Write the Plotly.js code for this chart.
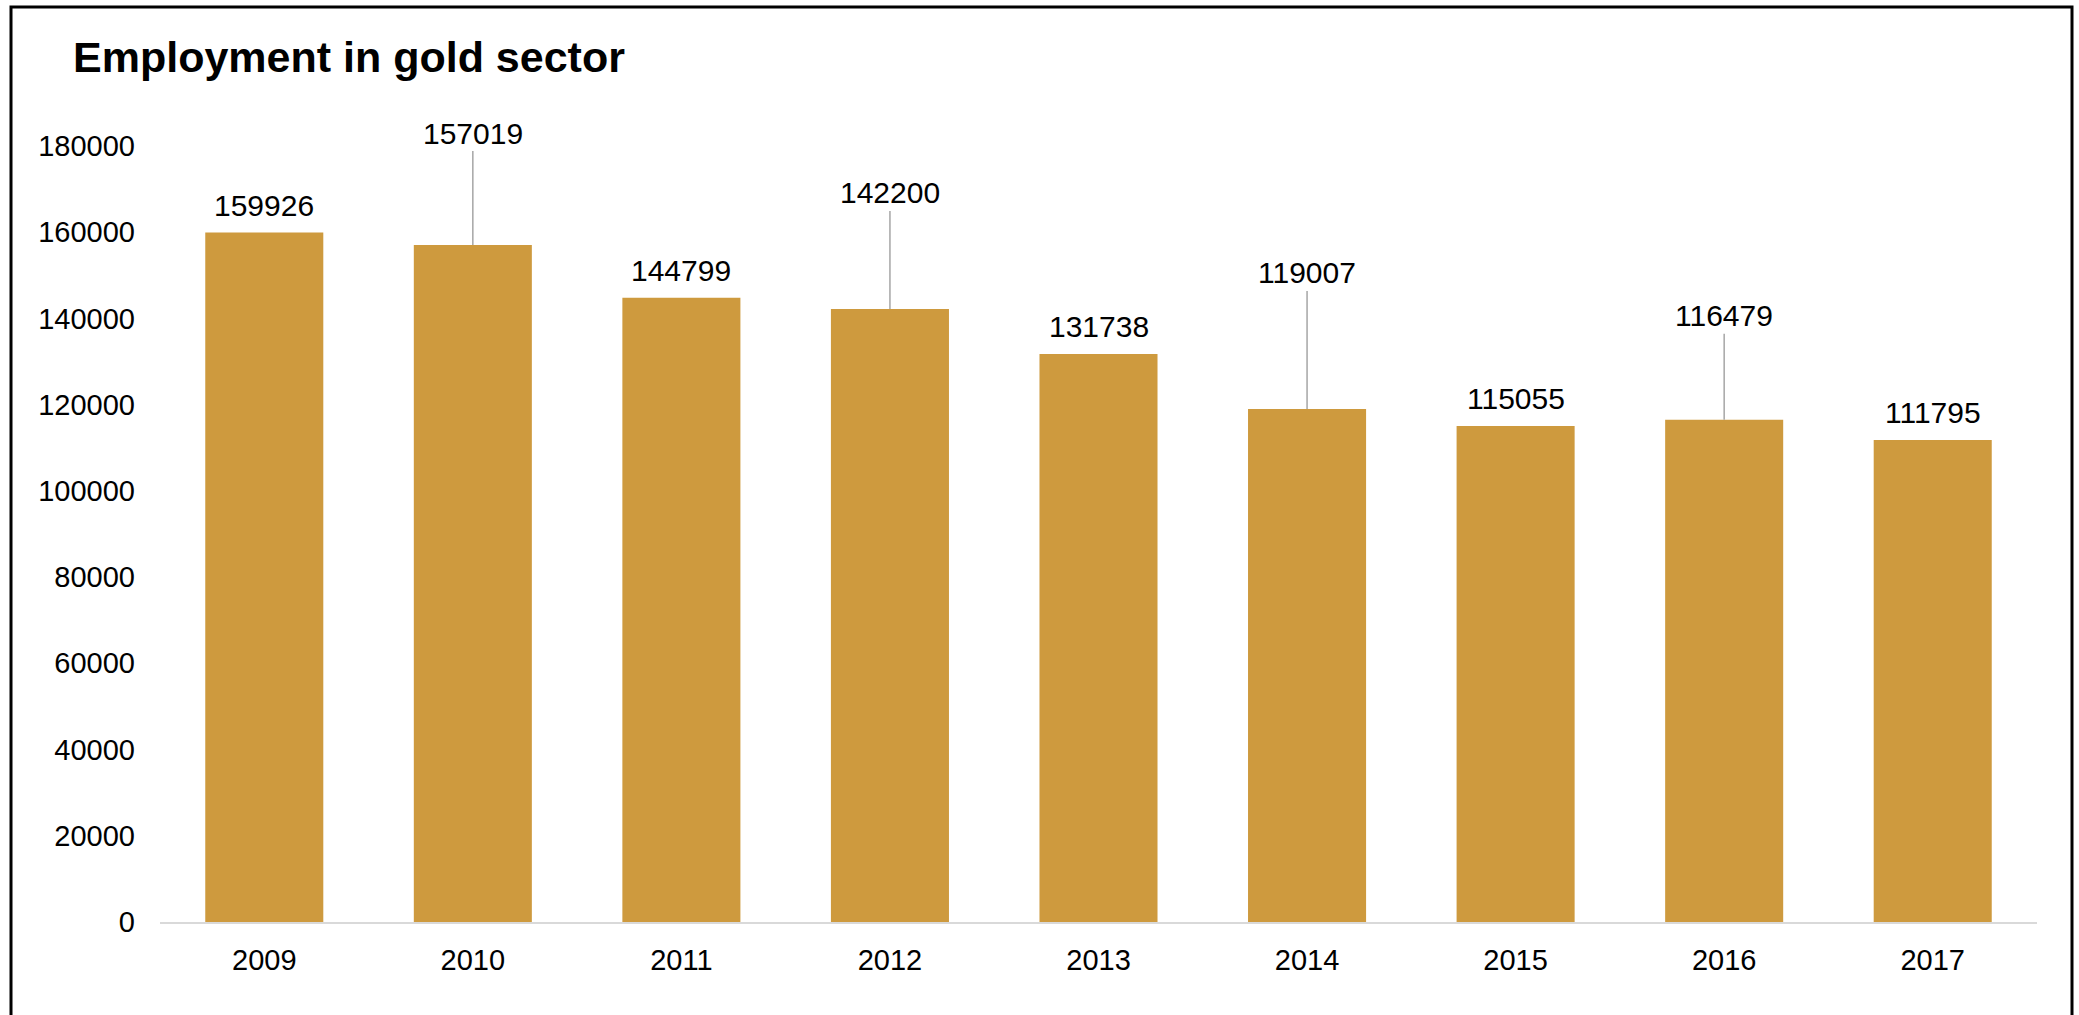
<!DOCTYPE html>
<html>
<head>
<meta charset="utf-8">
<script src="https://cdn.plot.ly/plotly-3.0.1.min.js"></script>
<style>
  html, body { margin: 0; padding: 0; background: #ffffff; }
  #chart { width: 2079px; height: 1015px; }
</style>
</head>
<body>
<div id="chart"></div>
<script>
// ---- data ----
const years = ['2009', '2010', '2011', '2012', '2013', '2014', '2015', '2016', '2017'];
const employment = [159926, 157019, 144799, 142200, 131738, 119007, 115055, 116479, 111795];
const yTickValues = [0, 20000, 40000, 60000, 80000, 100000, 120000, 140000, 160000, 180000];
const chartTitle = 'Employment in gold sector';

// ---- styling ----
const FONT = 'Arial, "Liberation Sans", Helvetica, sans-serif';
const BAR_COLOR = '#CE9A3E';
// labels that are lifted with a leader line (pixel offset of label above bar top)
const leaderLift = { '2010': -112, '2012': -116, '2014': -136, '2016': -104 };

const annotations = years.map((yr, i) => {
  const lift = leaderLift[yr];
  const base = {
    x: i, y: employment[i], xref: 'x', yref: 'y',
    text: String(employment[i]),
    font: { family: FONT, size: 30, color: '#000000' }
  };
  if (lift !== undefined) {
    return Object.assign(base, {
      showarrow: true, arrowhead: 0, arrowwidth: 1.5, arrowcolor: '#a6a6a6',
      ax: 0, ay: lift, standoff: 0, startstandoff: 0
    });
  }
  return Object.assign(base, { showarrow: false, yanchor: 'bottom', yshift: 9 });
});

const W = 2079, H = 1015;
const M = { l: 160, r: 42, t: 146, b: 93 };
const pw = W - M.l - M.r, ph = H - M.t - M.b;
const px = v => (v - M.l) / pw;          // pixel x -> paper x
const py = v => (H - M.b - v) / ph;      // pixel y -> paper y

const trace = {
  type: 'bar',
  x: years,
  y: employment,
  marker: { color: BAR_COLOR, line: { width: 0 } },
  hoverinfo: 'x+y'
};

const layout = {
  width: W, height: H,
  margin: M,
  paper_bgcolor: '#ffffff',
  plot_bgcolor: '#ffffff',
  showlegend: false,
  bargap: 0.434,
  font: { family: FONT, size: 29, color: '#000000' },
  title: {
    text: chartTitle,
    font: { family: FONT, size: 43, weight: 700, color: '#000000' },
    xref: 'container', yref: 'container',
    x: 73 / W, xanchor: 'left',
    y: 1 - 57 / H, yanchor: 'middle'
  },
  xaxis: {
    type: 'category',
    categoryorder: 'array', categoryarray: years,
    range: [-0.5, years.length - 0.5], autorange: false,
    showline: true, linecolor: '#d9d9d9', linewidth: 2,
    showgrid: false, zeroline: false,
    ticks: '', ticklabelstandoff: 11,
    tickfont: { family: FONT, size: 29, color: '#000000' }
  },
  yaxis: {
    range: [0, 180000], autorange: false,
    tickvals: yTickValues,
    tickformat: 'd',
    showgrid: false, zeroline: false, showline: false,
    ticks: '', ticklabelstandoff: 24,
    tickfont: { family: FONT, size: 29, color: '#000000' }
  },
  annotations: annotations,
  shapes: [{
    type: 'rect', xref: 'paper', yref: 'paper',
    x0: px(11), x1: px(2072), y0: py(1040), y1: py(7),
    line: { color: '#000000', width: 3 }, fillcolor: 'rgba(0,0,0,0)', layer: 'above'
  }]
};

Plotly.newPlot('chart', [trace], layout, { displayModeBar: false, staticPlot: true });
</script>
</body>
</html>
